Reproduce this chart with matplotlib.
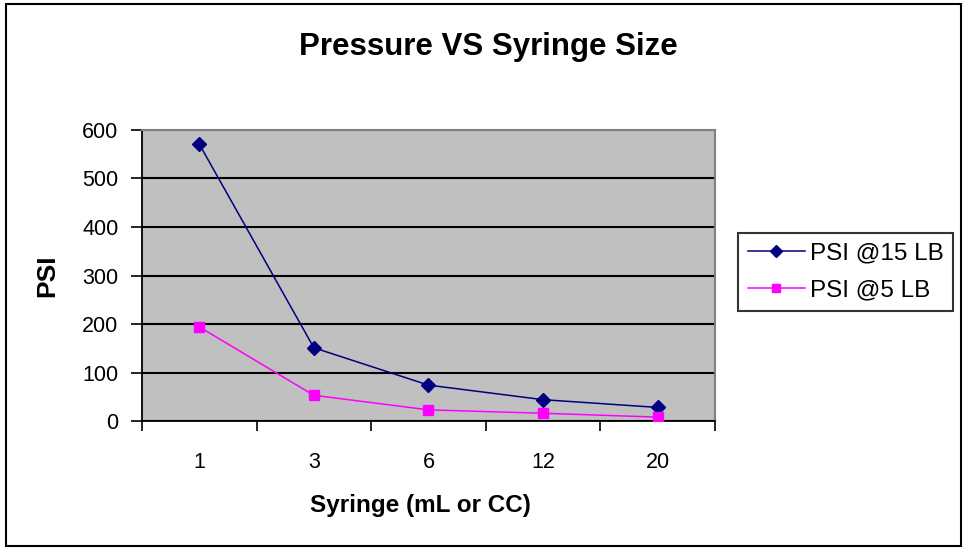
import numpy as np
import matplotlib.pyplot as plt
from matplotlib.patches import Rectangle

# Data
syringe_sizes = ['1', '3', '6', '12', '20']
psi_15lb = [571, 151, 74, 44, 28]
psi_5lb = [194, 53, 23, 16, 8]

plt.rcParams['font.family'] = ['Liberation Sans', 'DejaVu Sans']

fig = plt.figure(figsize=(9.67, 5.52), dpi=100)
ax = fig.add_axes([0.1468, 0.2373, 0.5926, 0.5272])

x = np.arange(len(syringe_sizes))
ax.set_facecolor('#C0C0C0')
ax.plot(x, psi_15lb, color='#000080', marker='D', markersize=7.5, linewidth=1.1,
        label='PSI @15 LB', zorder=3)
ax.plot(x, psi_5lb, color='#FF00FF', marker='s', markersize=7.5, linewidth=1.1,
        label='PSI @5 LB', zorder=3)

ax.set_xlim(-0.5, len(syringe_sizes) - 0.5)
ax.set_ylim(0, 600)
ax.set_yticks(np.arange(0, 601, 100))
ax.yaxis.grid(True, color='black', linewidth=1.5)
ax.set_axisbelow(True)

# category labels centered, ticks between categories
ax.set_xticks(x)
ax.set_xticklabels(syringe_sizes)
ax.set_xticks(np.arange(-0.5, len(syringe_sizes), 1), minor=True)
ax.tick_params(axis='x', which='major', length=0, pad=22, labelsize=15.5)
ax.tick_params(axis='x', which='minor', length=7, width=1.2, direction='out')
ax.tick_params(axis='y', length=8, width=1.2, direction='out', labelsize=15.5, pad=9)

for s in ['top', 'right']:
    ax.spines[s].set_color('#808080')
    ax.spines[s].set_linewidth(1.5)
for s in ['left', 'bottom']:
    ax.spines[s].set_color('black')
    ax.spines[s].set_linewidth(1.3)

fig.text(0.505, 0.9004, 'Pressure VS Syringe Size', fontsize=22.5, fontweight='bold',
         ha='center', va='baseline')
fig.text(0.435, 0.0725, 'Syringe (mL or CC)', fontsize=17.5, fontweight='bold',
         ha='center', va='baseline')
fig.text(0.0486, 0.5, 'PSI', fontsize=19, fontweight='bold', rotation=90,
         ha='center', va='center')

leg = fig.legend(loc='upper left', bbox_to_anchor=(0.763, 0.578), fontsize=17.5,
                 frameon=True, fancybox=False, edgecolor='black', handlelength=2.35,
                 borderpad=0.4, labelspacing=0.6, handletextpad=0.2,
                 borderaxespad=0, markerscale=0.8)
leg.get_frame().set_linewidth(1.5)

# outer chart border
fig.patches.append(Rectangle((0.006, 0.01), 0.988, 0.982, transform=fig.transFigure,
                             fill=False, edgecolor='black', linewidth=1.5))

fig.savefig('out.png', dpi=100, facecolor='white')
